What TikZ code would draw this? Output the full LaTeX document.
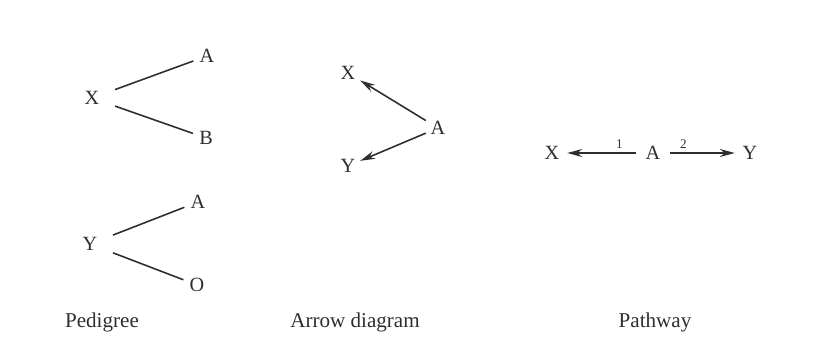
\documentclass[tikz,border=0pt]{standalone}
\usepackage{fontspec}
\setmainfont{Liberation Serif}
\usepackage{tikz}
\usetikzlibrary{arrows.meta}
\definecolor{Ink}{HTML}{2E2E2E}

\begin{document}
\begin{tikzpicture}[
  x=0.02cm, y=-0.02cm,
  letter/.style={text=Ink, font=\fontsize{11.5}{13}\selectfont, inner sep=2.6pt},
  caption/.style={text=Ink, font=\fontsize{12}{14}\selectfont, inner sep=0pt},
  label/.style={text=Ink, font=\fontsize{7.5}{8}\selectfont, inner sep=2pt},
  link/.style={draw=Ink, line width=0.9pt, shorten <=2.3mm, shorten >=0.3mm},
  arrow/.style={-{Stealth[length=3mm, width=1.6mm]}, draw=Ink, line width=0.9pt}
]
\useasboundingbox (0,0) rectangle (817,358);

% pedigree
\node[letter] (px) at (92,98) {X};
\node[letter] (pa) at (207,56) {A};
\node[letter] (pb) at (206,138) {B};
\node[letter] (py) at (90,244) {Y};
\node[letter] (pa2) at (198,202) {A};
\node[letter] (po) at (197,285) {O};
\draw[link] (px) -- (pa);
\draw[link] (px) -- (pb);
\draw[link] (py) -- (pa2);
\draw[link] (py) -- (po);

% arrow diagram
\node[letter] (ax) at (348,73) {X};
\node[letter] (aa) at (438,128) {A};
\node[letter] (ay) at (348,166) {Y};
\draw[arrow] (aa) -- (ax);
\draw[arrow] (aa) -- (ay);

% pathway
\node[letter] (wx) at (552,153) {X};
\node[letter] (wa) at (653,153) {A};
\node[letter] (wy) at (750,153) {Y};
\draw[arrow, shorten <=1mm, shorten >=0.6mm] (wa) -- node[label, pos=0.28, above] (n1) {1} (wx);
\draw[arrow, shorten <=1mm, shorten >=0.6mm] (wa) -- node[label, pos=0.25, above] (n2) {2} (wy);

% captions
\node[caption] (cped) at (102,322) {Pedigree};
\node[caption] (carr) at (355,322) {Arrow diagram};
\node[caption] (cpath) at (655,322) {Pathway};
\end{tikzpicture}
\end{document}
